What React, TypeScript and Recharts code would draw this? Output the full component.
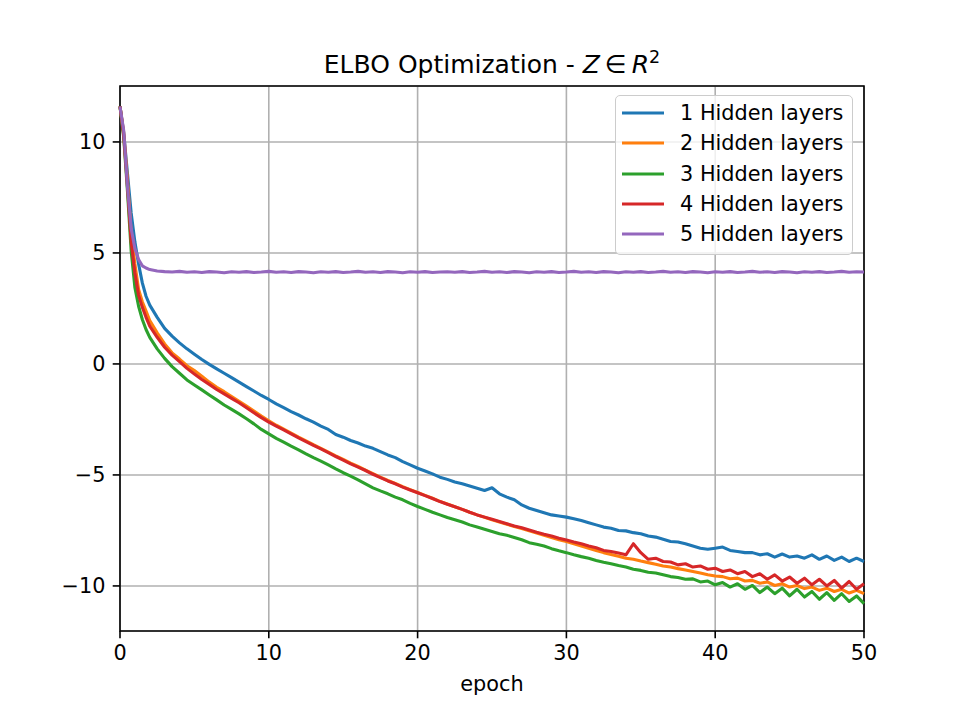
import {
  CartesianGrid,
  Legend,
  Line,
  LineChart,
  ReferenceArea,
  XAxis,
  YAxis,
} from 'recharts';

// epochs sampled for each run (denser at the start where curves drop fast)
const epochs = [
  0, 0.25, 0.5, 0.75, 1, 1.25, 1.5, 1.75, 2,
  2.5, 3, 3.5, 4, 4.5, 5, 5.5, 6, 6.5, 7,
  7.5, 8, 8.5, 9, 9.5, 10, 10.5, 11, 11.5, 12,
  12.5, 13, 13.5, 14, 14.5, 15, 15.5, 16, 16.5, 17,
  17.5, 18, 18.5, 19, 19.5, 20, 20.5, 21, 21.5, 22,
  22.5, 23, 23.5, 24, 24.5, 25, 25.5, 26, 26.5, 27,
  27.5, 28, 28.5, 29, 29.5, 30, 30.5, 31, 31.5, 32,
  32.5, 33, 33.5, 34, 34.5, 35, 35.5, 36, 36.5, 37,
  37.5, 38, 38.5, 39, 39.5, 40, 40.5, 41, 41.5, 42,
  42.5, 43, 43.5, 44, 44.5, 45, 45.5, 46, 46.5, 47,
  47.5, 48, 48.5, 49, 49.5, 50,
];

const hidden1 = [
  11.6, 10.4, 8.6, 6.8, 5.5, 4.5, 3.65, 3.05, 2.65,
  2.1, 1.6, 1.25, 0.95, 0.68, 0.44, 0.2, -0.02, -0.22, -0.42,
  -0.62, -0.82, -1.02, -1.22, -1.42, -1.6, -1.8, -1.97, -2.15, -2.3,
  -2.47, -2.62, -2.8, -2.95, -3.18, -3.3, -3.45, -3.56, -3.7, -3.8,
  -3.95, -4.1, -4.22, -4.4, -4.55, -4.7, -4.82, -4.95, -5.1, -5.2,
  -5.32, -5.4, -5.5, -5.6, -5.7, -5.58, -5.85, -6.0, -6.12, -6.35,
  -6.5, -6.6, -6.7, -6.8, -6.85, -6.9, -6.97, -7.05, -7.15, -7.25,
  -7.35, -7.4, -7.5, -7.52, -7.6, -7.65, -7.75, -7.8, -7.9, -8.0,
  -8.02, -8.1, -8.2, -8.3, -8.35, -8.3, -8.25, -8.4, -8.45, -8.5,
  -8.5, -8.6, -8.55, -8.7, -8.56, -8.7, -8.65, -8.75, -8.6, -8.8,
  -8.65, -8.85, -8.7, -8.9, -8.75, -8.9,
];

const hidden2 = [
  11.6, 10.4, 8.3, 5.9, 4.5, 3.35, 2.8, 2.38, 1.95,
  1.4, 0.9, 0.5, 0.22, -0.08, -0.3, -0.55, -0.82, -1.05, -1.25,
  -1.47, -1.68, -1.9, -2.12, -2.35, -2.56, -2.76, -2.94, -3.12, -3.3,
  -3.47, -3.64, -3.8, -3.97, -4.14, -4.3, -4.47, -4.62, -4.78, -4.94,
  -5.1, -5.25, -5.38, -5.53, -5.66, -5.79, -5.92, -6.05, -6.19, -6.31,
  -6.43, -6.55, -6.68, -6.8, -6.91, -7.02, -7.12, -7.22, -7.32, -7.41,
  -7.52, -7.62, -7.72, -7.82, -7.92, -8.0, -8.1, -8.2, -8.3, -8.4,
  -8.5, -8.58, -8.66, -8.75, -8.8, -8.88, -8.95, -9.02, -9.1, -9.15,
  -9.22, -9.28, -9.35, -9.42, -9.5, -9.55, -9.58, -9.68, -9.65, -9.78,
  -9.75, -9.88, -9.82, -9.98, -9.9, -10.05, -9.98, -10.12, -10.05, -10.2,
  -10.1, -10.25, -10.15, -10.32, -10.2, -10.35,
];

const hidden3 = [
  11.6, 10.2, 7.8, 5.1, 3.45, 2.6, 2.0, 1.55, 1.2,
  0.68, 0.25, -0.12, -0.42, -0.72, -0.95, -1.17, -1.4, -1.62, -1.85,
  -2.05, -2.25, -2.47, -2.7, -2.95, -3.15, -3.35, -3.52, -3.7, -3.87,
  -4.05, -4.22, -4.38, -4.55, -4.73, -4.9, -5.05, -5.22, -5.4, -5.58,
  -5.72, -5.85, -6.0, -6.12, -6.28, -6.42, -6.55, -6.68, -6.8, -6.92,
  -7.02, -7.12, -7.25, -7.35, -7.45, -7.55, -7.65, -7.72, -7.82, -7.92,
  -8.05, -8.12, -8.2, -8.32, -8.42, -8.5, -8.6, -8.68, -8.75, -8.85,
  -8.93, -9.0, -9.08, -9.15, -9.25, -9.3, -9.38, -9.42, -9.5, -9.58,
  -9.62, -9.7, -9.68, -9.82, -9.78, -9.95, -9.85, -10.05, -9.9, -10.15,
  -9.98, -10.3, -10.05, -10.35, -10.1, -10.45, -10.15, -10.5, -10.25, -10.6,
  -10.3, -10.65, -10.35, -10.7, -10.45, -10.8,
];

const hidden4 = [
  11.6, 10.3, 8.0, 5.5, 4.1, 3.1, 2.55, 2.1, 1.7,
  1.2, 0.75, 0.4, 0.1, -0.2, -0.45, -0.7, -0.92, -1.15, -1.35,
  -1.55, -1.75, -1.97, -2.2, -2.42, -2.62, -2.8, -2.97, -3.15, -3.33,
  -3.5, -3.67, -3.83, -4.0, -4.17, -4.33, -4.5, -4.65, -4.8, -4.97,
  -5.12, -5.27, -5.4, -5.55, -5.68, -5.8, -5.93, -6.06, -6.2, -6.32,
  -6.43, -6.55, -6.68, -6.8, -6.9, -7.0, -7.1, -7.2, -7.3, -7.38,
  -7.48, -7.58, -7.67, -7.75, -7.85, -7.93, -8.02, -8.1, -8.2, -8.28,
  -8.4, -8.45, -8.52, -8.6, -8.1, -8.5, -8.8, -8.75, -8.9, -8.92,
  -9.05, -9.0, -9.15, -9.1, -9.25, -9.2, -9.35, -9.28, -9.45, -9.35,
  -9.58, -9.45, -9.7, -9.5, -9.78, -9.6, -9.88, -9.65, -9.95, -9.7,
  -10.0, -9.75, -10.1, -9.8, -10.15, -9.9,
];

const hidden5 = [
  11.6, 10.5, 8.0, 6.1, 5.2, 4.7, 4.42, 4.32, 4.25,
  4.19, 4.16, 4.14, 4.17, 4.13, 4.15, 4.12, 4.16, 4.14, 4.11,
  4.15, 4.13, 4.16, 4.12, 4.14, 4.17, 4.13, 4.15, 4.12, 4.16,
  4.14, 4.11, 4.15, 4.13, 4.16, 4.12, 4.14, 4.17, 4.13, 4.15,
  4.12, 4.16, 4.14, 4.11, 4.15, 4.13, 4.16, 4.12, 4.14, 4.15,
  4.13, 4.16, 4.12, 4.14, 4.17, 4.13, 4.15, 4.12, 4.16, 4.14,
  4.11, 4.15, 4.13, 4.16, 4.12, 4.14, 4.17, 4.13, 4.15, 4.12,
  4.16, 4.14, 4.11, 4.15, 4.13, 4.16, 4.12, 4.14, 4.17, 4.13,
  4.15, 4.12, 4.16, 4.14, 4.11, 4.15, 4.13, 4.16, 4.12, 4.14,
  4.17, 4.13, 4.15, 4.12, 4.16, 4.14, 4.11, 4.15, 4.13, 4.16,
  4.12, 4.14, 4.17, 4.13, 4.15, 4.14,
];

const seriesNames = [
  '1 Hidden layers',
  '2 Hidden layers',
  '3 Hidden layers',
  '4 Hidden layers',
  '5 Hidden layers',
];
const seriesColors = ['#1f77b4', '#ff7f0e', '#2ca02c', '#d62728', '#9467bd'];
const seriesValues = [hidden1, hidden2, hidden3, hidden4, hidden5];

const xTicks = [0, 10, 20, 30, 40, 50];
const yTicks = [-10, -5, 0, 5, 10];
const yDomain: [number, number] = [-12.03, 12.52];

const data = epochs.map((epoch, i) => {
  const row: Record<string, number> = { epoch };
  seriesValues.forEach((values, s) => {
    row[`h${s + 1}`] = values[i];
  });
  return row;
});

const FONT = '"DejaVu Sans", sans-serif';
const tickStyle = { fontSize: 20.8, fill: '#000', fontFamily: FONT };
const minus = (v: number) => String(v).replace('-', '\u2212');

const LegendBox = () => (
  <div
    style={{
      boxSizing: 'border-box',
      width: 238,
      height: 160,
      border: '1.6px solid #cccccc',
      borderRadius: 5,
      background: 'rgba(255,255,255,0.8)',
      paddingTop: 2,
      fontFamily: FONT,
      fontSize: 20.8,
      color: '#000',
    }}
  >
    {seriesNames.map((name, i) => (
      <div
        key={name}
        style={{ display: 'flex', alignItems: 'center', height: 30.3 }}
      >
        <svg
          width={42}
          height={6}
          style={{ marginLeft: 5.5, marginRight: 16.6, flex: 'none' }}
        >
          <line
            x1={0}
            x2={42}
            y1={3}
            y2={3}
            stroke={seriesColors[i]}
            strokeWidth={3.1}
          />
        </svg>
        <span style={{ lineHeight: '30.3px', whiteSpace: 'nowrap' }}>
          {name}
        </span>
      </div>
    ))}
  </div>
);

export default function App() {
  return (
    <div
      style={{
        position: 'absolute',
        left: 0,
        top: 0,
        width: 960,
        height: 710,
        background: '#fff',
      }}
    >
      <div
        style={{
          position: 'absolute',
          left: 0,
          top: 50,
          width: 984,
          textAlign: 'center',
          fontFamily: FONT,
          fontSize: 25,
          lineHeight: '30px',
          color: '#000',
          zIndex: 1,
          whiteSpace: 'nowrap',
        }}
      >
        ELBO Optimization - <i>Z</i>
        {'\u2009\u2208\u2009'}
        <i>R</i>
        <span style={{ fontSize: 17.5, position: 'relative', top: -10 }}>
          2
        </span>
      </div>

      <LineChart
        width={960}
        height={710}
        data={data}
        margin={{ top: 86, right: 96, bottom: 0, left: 0 }}
      >
        <CartesianGrid
          stroke='#b0b0b0'
          strokeWidth={1.6}
          horizontal={true}
          vertical={true}
        />

        <XAxis
          dataKey='epoch'
          type='number'
          domain={[0, 50]}
          ticks={xTicks}
          height={79}
          axisLine={false}
          tickLine={{ stroke: '#000', strokeWidth: 1.6 }}
          tickSize={7.3}
          tickMargin={7.3}
          tick={tickStyle}
          interval={0}
          label={{
            value: 'epoch',
            position: 'insideBottom',
            offset: 19,
            fill: '#000',
            fontSize: 20.8,
            fontFamily: FONT,
          }}
        />

        <YAxis
          type='number'
          domain={yDomain}
          ticks={yTicks}
          width={120}
          axisLine={false}
          tickLine={{ stroke: '#000', strokeWidth: 1.6 }}
          tickSize={7.3}
          tickMargin={7.3}
          tick={tickStyle}
          tickFormatter={minus}
          interval={0}
          allowDataOverflow={true}
        />

        {seriesNames.map((name, i) => (
          <Line
            key={name}
            type='linear'
            dataKey={`h${i + 1}`}
            name={name}
            stroke={seriesColors[i]}
            strokeWidth={3.1}
            strokeLinejoin='round'
            dot={false}
            activeDot={false}
            isAnimationActive={false}
          />
        ))}

        <ReferenceArea
          x1={0}
          x2={50}
          y1={yDomain[0]}
          y2={yDomain[1]}
          fill='none'
          stroke='#000'
          strokeWidth={1.6}
          ifOverflow='visible'
        />

        <Legend
          layout='horizontal'
          verticalAlign='middle'
          align='center'
          wrapperStyle={{ top: 95, left: 615, width: 238, height: 160 }}
          content={<LegendBox />}
        />
      </LineChart>
    </div>
  );
}
